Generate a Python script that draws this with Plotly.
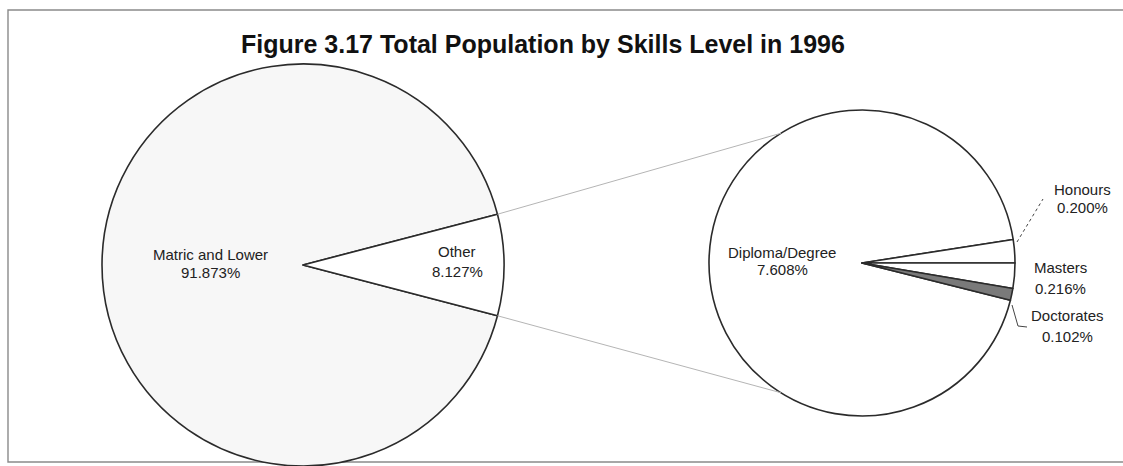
import math
import plotly.graph_objects as go

# ---- data ----
main_labels = ["Matric and Lower", "Other"]
main_values = [91.873, 8.127]
sub_labels = ["Diploma/Degree", "Honours", "Masters", "Doctorates"]
sub_values = [7.608, 0.200, 0.216, 0.102]
title_text = "Figure 3.17 Total Population by Skills Level in 1996"

W, H = 1123, 466
FONT = "Liberation Sans, Arial, sans-serif"

def X(px):
    return px / W

def Y(py):
    return 1 - py / H

# ---- geometry (pixels) ----
L_CX, L_CY, L_R = 303, 265, 201
R_CX, R_CY, R_R = 862, 263, 153

main_total = sum(main_values)
sub_total = sum(sub_values)
other_half = 180 * main_values[1] / main_total
main_rot = 90 + other_half
sub_rot = 90 + 360 * (sub_values[2] + sub_values[3]) / sub_total

edge = "#2b2b2b"
fig = go.Figure()
fig.add_trace(go.Pie(
    labels=main_labels, values=main_values, sort=False, direction="clockwise",
    rotation=main_rot, textinfo="none", hoverinfo="label+value",
    marker=dict(colors=["#f7f7f7", "#ffffff"], line=dict(color=edge, width=1.6)),
    domain=dict(x=[X(L_CX - L_R), X(L_CX + L_R)], y=[Y(L_CY + L_R), Y(L_CY - L_R)]),
    showlegend=False,
))
fig.add_trace(go.Pie(
    labels=sub_labels, values=sub_values, sort=False, direction="clockwise",
    rotation=sub_rot, textinfo="none", hoverinfo="label+value",
    marker=dict(colors=["#ffffff", "#ffffff", "#ffffff", "#7a7a7a"], line=dict(color=edge, width=1.6)),
    domain=dict(x=[X(R_CX - R_R), X(R_CX + R_R)], y=[Y(R_CY + R_R), Y(R_CY - R_R)]),
    showlegend=False,
))

shapes = []
# frame
shapes.append(dict(type="rect", xref="paper", yref="paper", x0=X(8), x1=X(1135), y0=Y(462), y1=Y(10),
                   line=dict(color="#8a8a8a", width=1.4), layer="below"))
# connectors
a = math.radians(other_half)
b = math.radians(122)
for s in (1, -1):
    x0 = L_CX + L_R * math.cos(a)
    y0 = L_CY - s * L_R * math.sin(a)
    x1 = R_CX + R_R * math.cos(b)
    y1 = R_CY - s * R_R * math.sin(b)
    shapes.append(dict(type="line", xref="paper", yref="paper", x0=X(x0), y0=Y(y0), x1=X(x1), y1=Y(y1),
                       line=dict(color="#b5b5b5", width=1)))
# leader lines
shapes.append(dict(type="line", xref="paper", yref="paper", x0=X(1017), y0=Y(242), x1=X(1043), y1=Y(199),
                   line=dict(color="#444", width=1, dash="dot")))
shapes.append(dict(type="path", xref="paper", yref="paper",
                   path=f"M {X(1012)} {Y(305)} L {X(1018)} {Y(326)} L {X(1027)} {Y(327)}",
                   line=dict(color="#444", width=1)))

def fmt(v):
    return f"{v:.3f}%"

ann = []
ann.append(dict(text=f"<b>{title_text}</b>", x=X(543), y=Y(44), xref="paper", yref="paper",
                xanchor="center", yanchor="middle",
                showarrow=False, font=dict(size=25, color="#111", family=FONT)))
lab_font = dict(size=15, color="#222", family=FONT)

def label(name, value, xp, y1, y2):
    for txt, yp in ((name, y1), (fmt(value), y2)):
        ann.append(dict(text=txt, x=X(xp), y=Y(yp), xref="paper", yref="paper", showarrow=False,
                        xanchor="center", yanchor="middle", font=lab_font))

label(main_labels[0], main_values[0], 210, 254, 272)
label(main_labels[1], main_values[1], 457, 251, 271)
label(sub_labels[0], sub_values[0], 782, 252, 269)
label(sub_labels[1], sub_values[1], 1082, 189, 207)
label(sub_labels[2], sub_values[2], 1060, 267, 288)
label(sub_labels[3], sub_values[3], 1067, 315, 336)

fig.update_layout(
    width=W, height=H, margin=dict(l=0, r=0, t=0, b=0),
    paper_bgcolor="white", plot_bgcolor="white",
    shapes=shapes, annotations=ann, font=dict(family=FONT),
)
fig.write_html("out.html")
